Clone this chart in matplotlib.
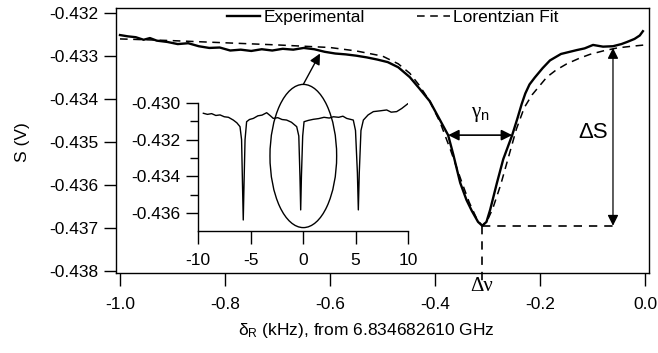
import matplotlib
matplotlib.use("Agg")
import matplotlib.pyplot as plt
from matplotlib.patches import Ellipse
from matplotlib.ticker import FixedLocator, FormatStrFormatter

plt.rcParams['font.family'] = ['Liberation Sans', 'DejaVu Sans']
plt.rcParams['axes.unicode_minus'] = False
plt.rcParams['lines.scale_dashes'] = False
plt.rcParams['mathtext.fontset'] = 'custom'
plt.rcParams['mathtext.rm'] = 'Liberation Sans'
plt.rcParams['mathtext.it'] = 'Liberation Sans:italic'
plt.rcParams['mathtext.bf'] = 'Liberation Sans:bold'
plt.rcParams['mathtext.sf'] = 'Liberation Serif'

# ---------------- data ----------------
exp_x = [-1.000, -0.985, -0.970, -0.955, -0.943, -0.930, -0.910, -0.890, -0.870, -0.850,
         -0.830, -0.810, -0.790, -0.770, -0.750, -0.730, -0.710, -0.690, -0.670, -0.650,
         -0.630, -0.610, -0.590, -0.570, -0.550, -0.530, -0.510, -0.490, -0.470, -0.448,
         -0.430, -0.410, -0.390, -0.375, -0.365, -0.352, -0.340, -0.330, -0.318, -0.310,
         -0.302, -0.295, -0.282, -0.270, -0.253, -0.243, -0.235, -0.228, -0.220, -0.210,
         -0.195, -0.181, -0.160, -0.130, -0.115, -0.099, -0.080, -0.061, -0.045, -0.034,
         -0.020, -0.010, -0.004]
exp_y = [-0.43251, -0.43254, -0.43256, -0.43262, -0.43258, -0.43264, -0.43267, -0.43272, -0.43270, -0.43277,
         -0.43281, -0.43280, -0.43287, -0.43285, -0.43288, -0.43284, -0.43287, -0.43283, -0.43285, -0.43281,
         -0.43284, -0.43290, -0.43294, -0.43296, -0.43299, -0.43303, -0.43308, -0.43314, -0.43326, -0.43349,
         -0.43375, -0.43405, -0.43450, -0.43484, -0.43530, -0.43595, -0.43635, -0.43660, -0.43686, -0.43695,
         -0.43686, -0.43658, -0.43595, -0.43540, -0.43484, -0.43445, -0.43412, -0.43387, -0.43366, -0.43350,
         -0.43328, -0.43310, -0.43295, -0.43286, -0.43282, -0.43274, -0.43278, -0.43277, -0.43272, -0.43267,
         -0.43260, -0.43252, -0.43242]

fit_x = [-1.000, -0.900, -0.800, -0.700, -0.600, -0.550, -0.500, -0.470, -0.448, -0.430,
         -0.410, -0.390, -0.370, -0.350, -0.335, -0.320, -0.310, -0.300, -0.290, -0.275,
         -0.260, -0.245, -0.230, -0.215, -0.200, -0.187, -0.170, -0.149, -0.125, -0.105,
         -0.080, -0.053, -0.025, 0.000]
fit_y = [-0.43260, -0.43264, -0.43269, -0.43274, -0.43280, -0.43288, -0.43300, -0.43318, -0.43340, -0.43368,
         -0.43405, -0.43455, -0.43520, -0.43590, -0.43640, -0.43680, -0.43695, -0.43682, -0.43655, -0.43600,
         -0.43535, -0.43470, -0.43420, -0.43390, -0.43368, -0.43349, -0.43333, -0.43318, -0.43305, -0.43296,
         -0.43288, -0.43281, -0.43277, -0.43274]

ins_x = [-9.49, -9.1, -8.7, -8.3, -7.9, -7.5, -7.1, -6.64, -6.3, -6.0,
         -5.85, -5.76, -5.69, -5.62, -5.52, -5.37, -5.1, -4.73, -4.3, -3.9,
         -3.46, -3.1, -2.83, -2.4, -2.0, -1.56, -1.1, -0.6, -0.40, -0.29,
         -0.22, -0.15, -0.03, 0.10, 0.5, 0.98, 1.5, 2.0, 2.5, 2.89,
         3.4, 3.8, 4.16, 4.79, 5.0, 5.18, 5.27, 5.36, 5.52, 5.75,
         6.2, 6.7, 7.3, 7.97, 8.4, 8.92, 9.4, 10.03]
ins_y = [-0.43056, -0.43062, -0.43058, -0.43068, -0.43065, -0.43075, -0.43078, -0.43093, -0.43108, -0.43129,
         -0.43200, -0.43450, -0.43638, -0.43450, -0.43200, -0.43102, -0.43090, -0.43084, -0.43070, -0.43066,
         -0.43053, -0.43070, -0.43084, -0.43080, -0.43090, -0.43093, -0.43105, -0.43129, -0.43180, -0.43400,
         -0.43583, -0.43400, -0.43180, -0.43102, -0.43095, -0.43089, -0.43085, -0.43078, -0.43082, -0.43075,
         -0.43078, -0.43072, -0.43084, -0.43093, -0.43150, -0.43380, -0.43583, -0.43380, -0.43150, -0.43093,
         -0.43065, -0.43047, -0.43043, -0.43038, -0.43050, -0.43047, -0.43030, -0.43002]

main_xticks = [-1.0, -0.8, -0.6, -0.4, -0.2, 0.0]
main_yticks = [-0.432, -0.433, -0.434, -0.435, -0.436, -0.437, -0.438]
ins_xticks = [-10, -5, 0, 5, 10]
ins_yticks = [-0.430, -0.432, -0.434, -0.436]
ins_yminor = [-0.431, -0.433, -0.435]

# key points for annotations
res_x, res_y = -0.3105, -0.43695      # resonance minimum
gam_left, gam_right, gam_y = -0.375, -0.253, -0.43484
ds_x, ds_top = -0.061, -0.43281
arrow_tip = (-0.619, -0.43294)
ell_center, ell_w, ell_h = (0.03, -0.43289), 6.35, 0.00781

FS = 12.5
fig = plt.figure(figsize=(6.58, 3.53), dpi=100)
ax = fig.add_axes([116/658, 1-273/353, 533/658, 265/353])
ax.set_xlim(-1.0076, 0.0076)
ax.set_ylim(-0.43805, -0.43188)

ax.plot(exp_x, exp_y, color='black', lw=1.7, label='Experimental', solid_joinstyle='round')
ax.plot(fit_x, fit_y, color='black', lw=1.1, ls=(0, (5.5, 4.0)), label='Lorentzian Fit')

ax.xaxis.set_major_locator(FixedLocator(main_xticks))
ax.yaxis.set_major_locator(FixedLocator(main_yticks))
ax.xaxis.set_major_formatter(FormatStrFormatter('%.1f'))
ax.yaxis.set_major_formatter(FormatStrFormatter('%.3f'))
ax.tick_params(axis='both', direction='out', length=9, width=1.0, labelsize=FS, color='black')
ax.tick_params(axis='x', pad=8)
ax.tick_params(axis='y', pad=3.5)
for s in ax.spines.values():
    s.set_linewidth(1.0)

leg = ax.legend(loc='upper left', bbox_to_anchor=(227/658, 1-10/353), bbox_transform=fig.transFigure,
                ncol=2, frameon=False, fontsize=FS, handlelength=1.9, handletextpad=0.2,
                columnspacing=3.0, borderpad=0, borderaxespad=0)

# gamma_n double arrow
ax.annotate('', xy=(gam_left, gam_y), xytext=(gam_right, gam_y),
            arrowprops=dict(arrowstyle='<|-|>', color='black', lw=1.2, shrinkA=0, shrinkB=0,
                            mutation_scale=16))
ax.text((gam_left + gam_right) / 2, -0.43437, r'$\mathsf{γ}_\mathrm{n}$', fontsize=15,
        ha='center', va='center')

# Delta S double arrow
ax.annotate('', xy=(ds_x, ds_top), xytext=(ds_x, res_y),
            arrowprops=dict(arrowstyle='<|-|>', color='black', lw=0.9, shrinkA=0, shrinkB=0,
                            mutation_scale=16))
ax.text(-0.099, -0.43479, 'ΔS', fontsize=16, ha='center', va='center')

# dashed guide lines
ax.plot([res_x, ds_x + 0.008], [res_y, res_y], color='black', lw=1.2, ls=(0, (6, 5)))
ax.plot([res_x, res_x], [res_y, -0.43825], color='black', lw=1.2, ls=(0, (6, 5)), clip_on=False)
ax.annotate('Δν', xy=(res_x, 0), xycoords=('data', 'axes fraction'), xytext=(0, -3),
            textcoords='offset points', ha='center', va='top', fontsize=15,
            fontfamily='Liberation Serif')

# ---------------- inset ----------------
ins = fig.add_axes([198/658, 1-231/353, 210/658, 128/353])
ins.patch.set_alpha(0)
ins.set_xlim(-10, 10)
ins.set_ylim(-0.43698, -0.430)
ins.plot(ins_x, ins_y, color='black', lw=1.0)
ins.spines['top'].set_visible(False)
ins.spines['right'].set_visible(False)
for s in ins.spines.values():
    s.set_linewidth(1.0)
ins.xaxis.set_major_locator(FixedLocator(ins_xticks))
ins.yaxis.set_major_locator(FixedLocator(ins_yticks))
ins.yaxis.set_minor_locator(FixedLocator(ins_yminor))
ins.xaxis.set_major_formatter(FormatStrFormatter('%d'))
ins.yaxis.set_major_formatter(FormatStrFormatter('%.3f'))
ins.tick_params(axis='both', which='major', direction='out', length=9, width=1.0, labelsize=FS)
ins.tick_params(axis='y', which='minor', direction='out', length=6, width=1.0)
ins.tick_params(axis='x', pad=7)
ins.tick_params(axis='y', pad=3.5)

ell = Ellipse(ell_center, ell_w, ell_h, fill=False, edgecolor='black', lw=1.0, clip_on=False)
ins.add_patch(ell)

ax.annotate('', xy=arrow_tip, xytext=(ell_center[0], ell_center[1] + ell_h / 2),
            textcoords=ins.transData,
            arrowprops=dict(arrowstyle='-|>', color='black', lw=1.0, shrinkA=0, shrinkB=0,
                            mutation_scale=16))

# axis labels
fig.text(22/658, 1-142/353, 'S (V)', rotation=90, ha='center', va='center', fontsize=FS)
fig.text(366/658, 1-331/353, r'$\mathrm{δ_R}$ (kHz), from 6.834682610 GHz', ha='center',
         va='center', fontsize=FS)

fig.savefig('out.png', dpi=100)
